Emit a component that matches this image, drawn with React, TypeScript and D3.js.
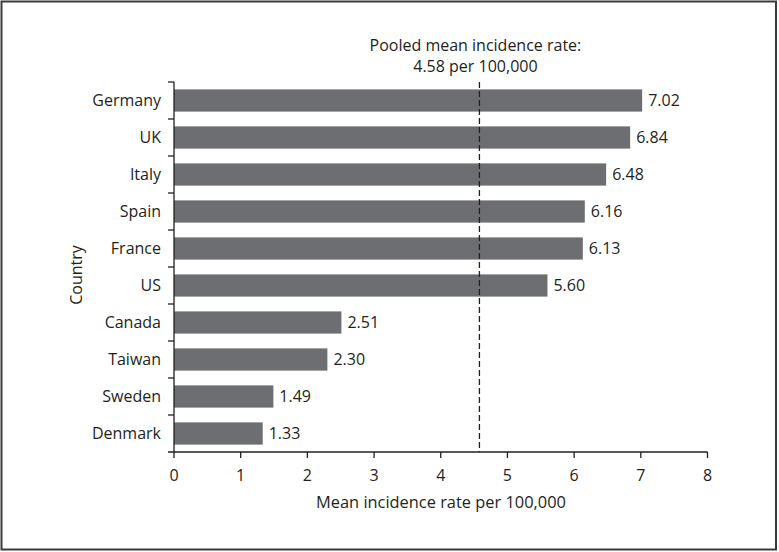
import React from "react";
import * as d3 from "d3";

const countries = ["Germany", "UK", "Italy", "Spain", "France", "US", "Canada", "Taiwan", "Sweden", "Denmark"];
const rates = [7.02, 6.84, 6.48, 6.16, 6.13, 5.6, 2.51, 2.3, 1.49, 1.33];
const xTicks = [0, 1, 2, 3, 4, 5, 6, 7, 8];
const pooledMean = 4.58;
const annotationLines = ["Pooled mean incidence rate:", "4.58 per 100,000"];
const xTitle = "Mean incidence rate per 100,000";
const yTitle = "Country";

const W = 779;
const H = 552;
const left = 174;
const right = 707.5;
const top = 82;
const bottom = 452;
const ink = "#231f20";
const barColor = "#6d6e71";
const font = "'Open Sans', 'Noto Sans', sans-serif";
const fs = 16;

export default function App() {
  const x = d3.scaleLinear().domain([0, 8]).range([left, right]);
  const y = d3.scaleBand<string>().domain(countries).range([top, bottom]).paddingInner(0.4).paddingOuter(0.2);
  const step = y.step();
  const boundaries = d3.range(countries.length).map((i) => top + i * step);
  return (
    <svg width={W} height={H} style={{ position: "absolute", left: 0, top: 0 }} fontFamily={font}>
      <rect x={1.5} y={1.5} width={774.5} height={548} fill="white" stroke="#3a3a3a" strokeWidth={2} />
      {countries.map((c, i) => (
        <g key={c}>
          <rect x={x(0)} y={y(c)!} width={x(rates[i]) - x(0)} height={y.bandwidth()} fill={barColor} />
          <text x={x(rates[i]) + 6} y={y(c)! + y.bandwidth() / 2} dy="0.35em" fontSize={fs} fill={ink}>
            {rates[i].toFixed(2)}
          </text>
          <text x={left - 13} y={y(c)! + y.bandwidth() / 2} dy="0.35em" fontSize={fs} fill={ink} textAnchor="end">
            {c}
          </text>
        </g>
      ))}
      {/* y axis */}
      <line x1={left} x2={left} y1={top} y2={bottom} stroke={ink} strokeWidth={1.3} />
      {boundaries.map((b, i) => (
        <line key={i} x1={left - 6} x2={left} y1={b} y2={b} stroke={ink} strokeWidth={1.3} />
      ))}
      {/* x axis */}
      <line x1={left - 6} x2={right} y1={bottom} y2={bottom} stroke={ink} strokeWidth={1.3} />
      {xTicks.map((t) => (
        <g key={t}>
          <line x1={x(t)} x2={x(t)} y1={bottom} y2={bottom + 6} stroke={ink} strokeWidth={1.3} />
          <text x={x(t)} y={bottom + 23} dy="0.35em" fontSize={fs} fill={ink} textAnchor="middle">
            {t}
          </text>
        </g>
      ))}
      <text x={441} y={502} dy="0.35em" fontSize={16.4} fill={ink} textAnchor="middle">
        {xTitle}
      </text>
      <text transform={`translate(76,${(top + bottom) / 2 + 8}) rotate(-90)`} dy="0.35em" fontSize={fs} fill={ink} textAnchor="middle">
        {yTitle}
      </text>
      {/* pooled mean */}
      <line x1={x(pooledMean)} x2={x(pooledMean)} y1={top} y2={bottom} stroke={ink} strokeWidth={1.3} strokeDasharray="6,3" />
      {annotationLines.map((l, i) => (
        <text key={i} x={x(pooledMean) - 4} y={45 + i * 21} dy="0.35em" fontSize={fs} fill={ink} textAnchor="middle">
          {l}
        </text>
      ))}
    </svg>
  );
}
